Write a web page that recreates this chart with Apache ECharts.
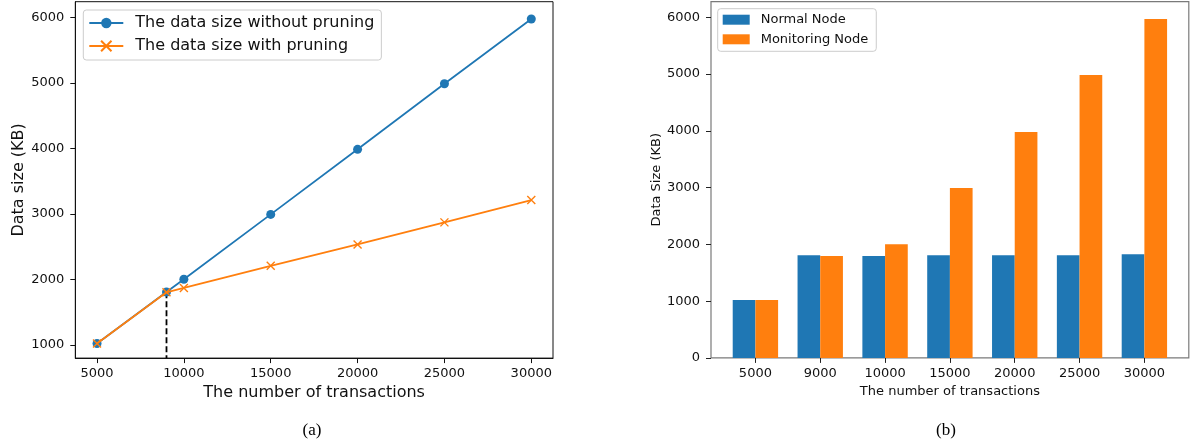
<!DOCTYPE html>
<html>
<head>
<meta charset="utf-8">
<script src="https://cdn.jsdelivr.net/npm/echarts@6/dist/echarts.min.js"></script>
<style>html,body{margin:0;padding:0;background:#fff}#c{width:1194px;height:446px}</style>
</head>
<body>
<div id="c"></div>
<script>
// ---- data (a) ----
const txA = [5000, 9000, 10000, 15000, 20000, 25000, 30000];
const withoutPruning = [1020, 1805, 2000, 2991, 3984, 4985, 5974];
const withPruning = [1020, 1802, 1868, 2206, 2533, 2869, 3210];
const xTicksA = [5000, 10000, 15000, 20000, 25000, 30000];
const yTicksA = [1000, 2000, 3000, 4000, 5000, 6000];
const pruneStart = [9000, 1802];
// ---- data (b) ----
const txB = ['5000', '9000', '10000', '15000', '20000', '25000', '30000'];
const normalNode = [1020, 1810, 1795, 1810, 1810, 1810, 1828];
const monitoringNode = [1020, 1795, 2003, 2991, 3979, 4984, 5972];
const yTicksB = [0, 1000, 2000, 3000, 4000, 5000, 6000];

const namesA = ['The data size without pruning', 'The data size with pruning'];
const namesB = ['Normal Node', 'Monitoring Node'];

const BLUE = '#1f77b4', ORANGE = '#ff7f0e';
const FONT = 'DejaVu Sans';
const yMinA = 797, yMaxA = 6238;

// layout
const gA = {left: 75.3, top: 1.7, width: 477.7, height: 356.4};
const gB = {left: 711, top: 1.7, width: 477.8, height: 356.2};
const band = gB.width / 7.37;
const inset = 0.185 * band;
const gBin = {left: gB.left + inset, top: gB.top, width: gB.width - 2 * inset, height: gB.height};

const chart = echarts.init(document.getElementById('c'), null, {renderer: 'canvas'});

const plain = (v) => String(Math.round(v));
const tickLabel = (c) => ({fontFamily: FONT, fontSize: 13, color: c, formatter: plain});

const option = {
  animation: false,
  backgroundColor: '#fff',
  grid: [
    Object.assign({show: true, borderColor: '#111', borderWidth: 1, backgroundColor: 'transparent', containLabel: false}, gA),
    Object.assign({show: true, borderColor: '#7a7a7a', borderWidth: 1.2, backgroundColor: 'transparent'}, gB),
    Object.assign({show: false}, gBin)
  ],
  xAxis: [
    {
      gridIndex: 0, type: 'value', min: 3750, max: 31250,
      name: 'The number of transactions', nameLocation: 'middle', nameGap: 27,
      nameTextStyle: {fontFamily: FONT, fontSize: 16, color: '#111'},
      axisLine: {show: true, lineStyle: {color: '#111', width: 1}},
      axisTick: {show: true, length: 5, lineStyle: {color: '#111'}, customValues: xTicksA},
      axisLabel: Object.assign({margin: 9, customValues: xTicksA, showMinLabel: true, showMaxLabel: true}, tickLabel('#111')),
      splitLine: {show: false}
    },
    {
      gridIndex: 1, type: 'value', min: 0, max: 1, show: false
    },
    {
      gridIndex: 2, type: 'category', data: txB, boundaryGap: true,
      name: 'The number of transactions', nameLocation: 'middle', nameGap: 27,
      nameTextStyle: {fontFamily: FONT, fontSize: 13, color: '#111'},
      axisLine: {show: false},
      axisTick: {show: true, alignWithLabel: true, length: 5, lineStyle: {color: '#222'}},
      axisLabel: {margin: 9, interval: 0, fontFamily: FONT, fontSize: 13, color: '#111'},
      splitLine: {show: false}
    }
  ],
  yAxis: [
    {
      gridIndex: 0, type: 'value', min: yMinA, max: yMaxA,
      name: 'Data size (KB)', nameLocation: 'middle', nameGap: 46,
      nameTextStyle: {fontFamily: FONT, fontSize: 16, color: '#111'},
      axisLine: {show: true, lineStyle: {color: '#111', width: 1}},
      axisTick: {show: true, length: 5, lineStyle: {color: '#111'}, customValues: yTicksA},
      axisLabel: Object.assign({margin: 11, customValues: yTicksA}, tickLabel('#111')),
      splitLine: {show: false}
    },
    {
      gridIndex: 1, type: 'value', min: 0, max: 1, show: false
    },
    {
      gridIndex: 2, type: 'value', min: 0, max: 6275, offset: inset,
      name: 'Data Size (KB)', nameLocation: 'middle', nameGap: 46,
      nameTextStyle: {fontFamily: FONT, fontSize: 13, color: '#111'},
      axisLine: {show: false},
      axisTick: {show: true, length: 5, lineStyle: {color: '#222'}, customValues: yTicksB},
      axisLabel: Object.assign({margin: 11, customValues: yTicksB}, tickLabel('#111')),
      splitLine: {show: false}
    }
  ],
  legend: [
    {
      data: namesA, orient: 'vertical', left: 83.3, top: 10,
      backgroundColor: 'rgba(255,255,255,0.8)', borderColor: '#cccccc', borderWidth: 1, borderRadius: 3,
      padding: [5, 7, 6, 5], itemWidth: 34, itemHeight: 13, itemGap: 7,
      textStyle: {fontFamily: FONT, fontSize: 16, color: '#111', lineHeight: 16, padding: [0, 0, 0, 7]}
    },
    {
      data: namesB, orient: 'vertical', left: 717.7, top: 8.7,
      backgroundColor: 'rgba(255,255,255,0.8)', borderColor: '#cccccc', borderWidth: 1, borderRadius: 3,
      padding: [4, 8, 5, 5], itemWidth: 27, itemHeight: 10, itemGap: 5.6, icon: 'rect',
      textStyle: {fontFamily: FONT, fontSize: 13, color: '#111', lineHeight: 14, padding: [0, 0, 0, 6]}
    }
  ],
  graphic: [
    {type: 'text', x: 312, y: 431, style: {text: '(a)', fontFamily: 'Liberation Serif', fontSize: 17, fill: '#000', align: 'center', verticalAlign: 'middle'}},
    {type: 'text', x: 946, y: 431, style: {text: '(b)', fontFamily: 'Liberation Serif', fontSize: 17, fill: '#000', align: 'center', verticalAlign: 'middle'}}
  ],
  series: [
    {
      name: namesA[0], type: 'line', xAxisIndex: 0, yAxisIndex: 0,
      data: txA.map((x, i) => [x, withoutPruning[i]]),
      symbol: 'circle', symbolSize: 9, showAllSymbol: true,
      lineStyle: {color: BLUE, width: 1.8}, itemStyle: {color: BLUE}, z: 3
    },
    {
      name: 'dash', type: 'line', xAxisIndex: 0, yAxisIndex: 0,
      data: [pruneStart, [pruneStart[0], yMinA]],
      symbol: 'none', lineStyle: {color: '#000', width: 1.8, type: [6, 3]}, z: 2, silent: true
    },
    {
      name: namesA[1], type: 'line', xAxisIndex: 0, yAxisIndex: 0,
      data: txA.map((x, i) => [x, withPruning[i]]),
      symbol: 'path://M0,0L10,10M10,0L0,10', symbolSize: 8, showAllSymbol: true,
      lineStyle: {color: ORANGE, width: 1.8},
      itemStyle: {color: ORANGE, borderColor: ORANGE, borderWidth: 1.4}, z: 4
    },
    {
      name: namesB[0], type: 'bar', xAxisIndex: 2, yAxisIndex: 2,
      data: normalNode, barWidth: '35%', barGap: '0%',
      itemStyle: {color: BLUE}
    },
    {
      name: namesB[1], type: 'bar', xAxisIndex: 2, yAxisIndex: 2,
      data: monitoringNode, barWidth: '35%', barGap: '0%',
      itemStyle: {color: ORANGE}
    }
  ]
};
chart.setOption(option);
</script>
</body>
</html>
